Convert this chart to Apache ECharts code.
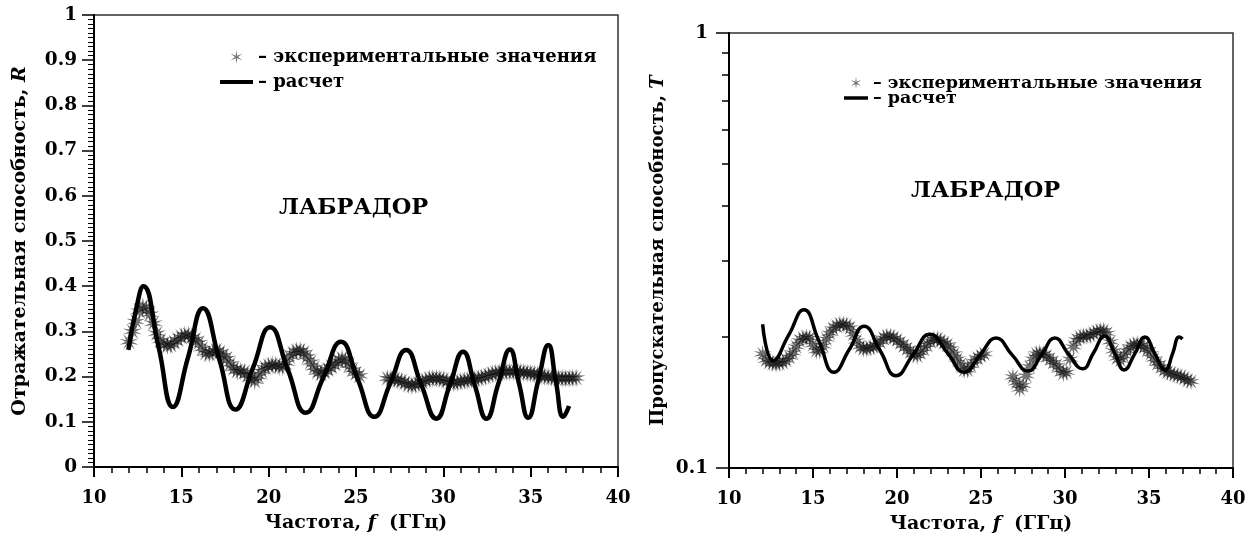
<!DOCTYPE html>
<html><head><meta charset="utf-8">
<script src="https://cdn.jsdelivr.net/npm/echarts@6/dist/echarts.min.js"></script>
<style>html,body{margin:0;padding:0;background:#fff}#c{width:1254px;height:539px}</style>
</head><body><div id="c"></div>
<script>
// ---------- data ----------
const seriesNames = ['экспериментальные значения', 'расчет'];
const titleText = 'ЛАБРАДОР';
const xTicksInfo = [10, 40, 5];           // min, max, interval (GHz)
const rTicksInfo = [0, 1, 0.1];
const tLabels = [0.1, 1];
const tMinor = [0.2, 0.3, 0.4, 0.5, 0.6, 0.7, 0.8, 0.9];

// Reflectance R: experiment
const expR = [
[12.0,.277],[12.2,.300],[12.4,.322],[12.6,.345],[12.8,.355],[13.0,.350],[13.2,.338],[13.4,.318],[13.6,.296],[13.8,.280],
[14.0,.272],[14.2,.268],[14.4,.270],[14.6,.276],[14.8,.282],[15.0,.288],[15.2,.292],[15.4,.292],[15.6,.288],[15.8,.283],
[16.0,.275],[16.2,.262],[16.4,.252],[16.6,.250],[16.8,.254],[17.0,.258],[17.2,.254],[17.4,.247],[17.6,.240],[17.8,.228],
[18.0,.218],[18.2,.212],[18.4,.212],[18.6,.210],[18.8,.203],[19.0,.195],[19.2,.190],[19.4,.200],[19.6,.212],[19.8,.220],
[20.0,.224],[20.2,.226],[20.4,.225],[20.6,.222],[20.8,.222],[21.0,.230],[21.2,.244],[21.4,.252],[21.6,.257],[21.8,.258],
[22.0,.253],[22.2,.244],[22.4,.232],[22.6,.220],[22.8,.210],[23.0,.206],[23.2,.210],[23.4,.216],[23.6,.222],[23.8,.228],
[24.0,.235],[24.2,.240],[24.4,.236],[24.6,.225],[24.8,.215],[25.0,.207],[25.2,.202],
[26.8,.196],[27.0,.195],[27.2,.194],[27.4,.192],[27.6,.190],[27.8,.186],[28.0,.182],[28.2,.180],[28.4,.182],[28.6,.185],
[28.8,.188],[29.0,.192],[29.2,.195],[29.4,.196],[29.6,.196],[29.8,.195],[30.0,.193],[30.2,.190],[30.4,.187],[30.6,.186],
[30.8,.187],[31.0,.189],[31.2,.191],[31.4,.192],[31.6,.193],[31.8,.194],[32.0,.196],[32.2,.198],[32.4,.200],[32.6,.203],
[32.8,.206],[33.0,.208],[33.2,.209],[33.4,.210],[33.6,.211],[33.8,.211],[34.0,.211],[34.2,.211],[34.4,.210],[34.6,.209],
[34.8,.208],[35.0,.207],[35.2,.206],[35.4,.204],[35.6,.202],[35.8,.200],[36.0,.199],[36.2,.198],[36.4,.197],[36.6,.196],
[36.8,.196],[37.0,.196],[37.2,.196],[37.4,.197],[37.6,.197]
];
// Reflectance R: calculation
const calcR = [
[11.97,.259],[12.4,.347],[12.83,.400],[13.7,.265],[14.52,.133],[15.38,.242],[16.24,.351],[17.17,.239],[18.1,.127],
[19.09,.218],[20.08,.309],[21.1,.215],[22.13,.120],[23.13,.198],[24.14,.277],[25.1,.194],[26.05,.111],[26.96,.185],
[27.87,.259],[28.73,.183],[29.6,.107],[30.37,.181],[31.13,.255],[31.8,.181],[32.47,.107],[33.14,.183],[33.81,.260],
[34.33,.185],[34.86,.109],[35.43,.190],[36.01,.270],[36.44,.190],[36.87,.111],[37.2,.135]
];
// Transmittance T: experiment
const expT = [
[12.0,.183],[12.2,.177],[12.4,.175],[12.6,.174],[12.8,.1735],[13.0,.174],[13.2,.175],[13.4,.177],[13.6,.180],[13.8,.184],
[14.0,.190],[14.2,.196],[14.4,.199],[14.6,.200],[14.8,.199],[15.0,.192],[15.2,.186],[15.4,.186],[15.6,.191],[15.8,.198],
[16.0,.204],[16.2,.209],[16.4,.212],[16.6,.214],[16.8,.214],[17.0,.213],[17.2,.210],[17.4,.203],[17.6,.196],[17.8,.190],
[18.0,.188],[18.2,.188],[18.4,.189],[18.6,.190],[18.8,.192],[19.0,.195],[19.2,.199],[19.4,.201],[19.6,.201],[19.8,.199],
[20.0,.197],[20.2,.194],[20.4,.191],[20.6,.188],[20.8,.185],[21.0,.182],[21.2,.181],[21.4,.184],[21.6,.188],[21.8,.192],
[22.0,.196],[22.2,.198],[22.4,.198],[22.6,.196],[22.8,.194],[23.0,.192],[23.2,.188],[23.4,.183],[23.6,.178],[23.8,.173],
[24.0,.168],[24.2,.168],[24.4,.172],[24.6,.176],[24.8,.179],[25.0,.181],[25.2,.183],
[26.9,.162],[27.1,.157],[27.3,.152],[27.5,.155],[27.7,.163],[27.9,.171],[28.1,.178],[28.3,.183],[28.5,.184],[28.7,.183],
[28.9,.181],[29.1,.178],[29.3,.175],[29.5,.172],[29.7,.168],[29.9,.165],[30.1,.166],[30.3,.178],[30.5,.190],[30.7,.197],
[30.9,.200],[31.1,.201],[31.3,.201],[31.5,.202],[31.7,.204],[31.9,.206],[32.1,.207],[32.3,.207],[32.5,.204],[32.7,.195],
[32.9,.186],[33.1,.179],[33.3,.177],[33.5,.181],[33.7,.186],[33.9,.190],[34.1,.192],[34.3,.193],[34.5,.192],[34.7,.190],
[34.9,.187],[35.1,.183],[35.3,.178],[35.5,.174],[35.7,.171],[35.9,.168],[36.1,.166],[36.3,.165],[36.5,.164],[36.7,.163],
[36.9,.162],[37.1,.161],[37.3,.159],[37.5,.158]
];
// Transmittance T: calculation
const calcT = [
[12.0,.214],[12.64,.1765],[13.55,.202],[14.46,.231],[15.35,.196],[16.25,.166],[17.15,.187],[18.04,.2117],[19.0,.186],
[19.94,.163],[20.95,.182],[21.96,.203],[23.0,.184],[24.0,.166],[24.95,.182],[25.9,.199],[26.85,.182],[27.8,.167],
[28.6,.182],[29.4,.199],[30.2,.183],[31.05,.169],[31.7,.184],[32.35,.201],[32.95,.184],[33.52,.168],[34.15,.183],
[34.76,.200],[35.35,.183],[35.97,.168],[36.4,.183],[36.8,.200],[37.0,.198]
];

// ---------- styling ----------
const FF = 'DejaVu Serif';
const txt = (size) => ({ fontFamily: FF, fontWeight: 'bold', fontSize: size, color: '#000' });

function starPath(arms, inner) {
  const pts = [];
  for (let k = 0; k < arms * 2; k++) {
    const r = k % 2 === 0 ? 10 : inner;
    const a = k * Math.PI / arms - Math.PI / 2;
    pts.push((r * Math.cos(a)).toFixed(2) + ' ' + (r * Math.sin(a)).toFixed(2));
  }
  return 'path://M' + pts.join(' L') + ' Z';
}
const STAR = starPath(10, 3.4);
const LEGEND_STAR = starPath(6, 2.2);
const LINE_ICON = 'path://M0 0 L33 0 L33 4 L0 4 Z';
const LINE_ICON2 = 'path://M0 0 L24 0 L24 3.5 L0 3.5 Z';
const STAR_COLOR = 'rgba(12,12,12,0.72)';

function xAxisCfg(grid) {
  return {
    type: 'value', gridIndex: grid, min: xTicksInfo[0], max: xTicksInfo[1], interval: xTicksInfo[2],
    name: 'Частота, {i|f}  (ГГц)', nameLocation: 'middle', nameGap: 47,
    nameTextStyle: Object.assign(txt(19), { rich: { i: Object.assign(txt(19), { fontStyle: 'italic' }) } }),
    axisLine: { show: true, onZero: false, lineStyle: { color: '#000', width: 2 } },
    axisTick: { show: true, inside: false, length: 10, lineStyle: { color: '#000', width: 2 } },
    minorTick: { show: true, splitNumber: 5, length: 6, lineStyle: { color: '#000', width: 1.5 } },
    axisLabel: Object.assign(txt(18), { margin: 22 }),
    splitLine: { show: false }
  };
}

const option = {
  animation: false,
  backgroundColor: '#fff',
  title: [
    { text: titleText, left: 274, top: 192, textStyle: txt(22.5) },
    { text: titleText, left: 906, top: 175, textStyle: txt(22.5) }
  ],
  legend: [
    { left: 215, top: 42, orient: 'vertical', itemWidth: 33, itemHeight: 14, itemGap: 5, selectedMode: false,
      data: [{ name: seriesNames[0], icon: LEGEND_STAR, itemStyle: { color: '#555' } }, { name: seriesNames[1], icon: LINE_ICON }],
      formatter: n => '– ' + n, textStyle: Object.assign(txt(18), { lineHeight: 20 }) },
    { left: 839, top: 69, orient: 'vertical', itemWidth: 24, itemHeight: 12, itemGap: -3, selectedMode: false,
      data: [{ name: seriesNames[0], icon: LEGEND_STAR, itemStyle: { color: '#555' } }, { name: seriesNames[1], icon: LINE_ICON2 }],
      formatter: n => '– ' + n, textStyle: Object.assign(txt(17.5), { lineHeight: 14 }) }
  ],
  grid: [
    { left: 94, top: 15, width: 524, height: 452, show: true, borderColor: '#333', borderWidth: 1.5, backgroundColor: 'transparent' },
    { left: 729, top: 33, width: 504, height: 436, show: true, borderColor: '#333', borderWidth: 1.5, backgroundColor: 'transparent' }
  ],
  xAxis: [xAxisCfg(0), xAxisCfg(1)],
  yAxis: [
    {
      type: 'value', gridIndex: 0, min: rTicksInfo[0], max: rTicksInfo[1], interval: rTicksInfo[2],
      name: 'Отражательная способность, {i|R}', nameLocation: 'middle', nameGap: 64, nameRotate: 90,
      nameTextStyle: Object.assign(txt(19), { rich: { i: Object.assign(txt(19), { fontStyle: 'italic' }) } }),
      axisLine: { show: true, lineStyle: { color: '#000', width: 2 } },
      axisTick: { show: true, length: 12, lineStyle: { color: '#000', width: 1.5 } },
      minorTick: { show: true, splitNumber: 10, length: 6, lineStyle: { color: '#000', width: 1 } },
      axisLabel: Object.assign(txt(18.5), { margin: 17, formatter: v => String(+v.toFixed(1)) }),
      splitLine: { show: false }
    },
    {
      type: 'log', logBase: 10, gridIndex: 1, min: 0.1, max: 1,
      name: 'Пропускательная способность, {i|T}', nameLocation: 'middle', nameGap: 62, nameRotate: 90,
      nameTextStyle: Object.assign(txt(18), { rich: { i: Object.assign(txt(18), { fontStyle: 'italic' }) } }),
      axisLine: { show: true, lineStyle: { color: '#000', width: 2 } },
      axisTick: { show: true, length: 13, customValues: tLabels, lineStyle: { color: '#000', width: 1.5 } },
      axisLabel: Object.assign(txt(18.5), { margin: 21, customValues: tLabels, formatter: v => String(v) }),
      splitLine: { show: false }
    },
    {
      type: 'log', logBase: 10, gridIndex: 1, min: 0.1, max: 1, position: 'left',
      axisLine: { show: false },
      axisTick: { show: true, length: 7, customValues: tMinor, lineStyle: { color: '#000', width: 1.5 } },
      axisLabel: { show: false },
      splitLine: { show: false }
    }
  ],
  series: [
    { name: seriesNames[0], type: 'scatter', xAxisIndex: 0, yAxisIndex: 0, data: expR, symbol: STAR, symbolSize: 19,
      itemStyle: { color: STAR_COLOR }, z: 2 },
    { name: seriesNames[1], type: 'line', xAxisIndex: 0, yAxisIndex: 0, data: calcR, smooth: 0.5, symbol: 'none',
      lineStyle: { color: '#000', width: 4.5 }, itemStyle: { color: '#000' }, z: 3 },
    { name: seriesNames[0], type: 'scatter', xAxisIndex: 1, yAxisIndex: 1, data: expT, symbol: STAR, symbolSize: 18,
      itemStyle: { color: STAR_COLOR }, z: 2 },
    { name: seriesNames[1], type: 'line', xAxisIndex: 1, yAxisIndex: 1, data: calcT, smooth: 0.5, symbol: 'none',
      lineStyle: { color: '#000', width: 3.5 }, itemStyle: { color: '#000' }, z: 3 }
  ]
};
const chart = echarts.init(document.getElementById('c'), null, { renderer: 'canvas', width: 1254, height: 539 });
chart.setOption(option);
</script>
</body></html>
